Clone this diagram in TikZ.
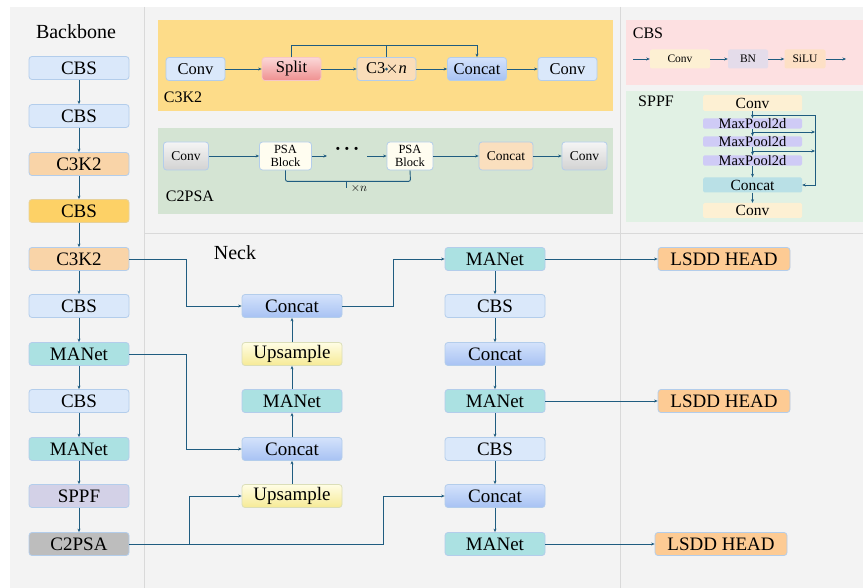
\documentclass[tikz,border=0pt]{standalone}
\usepackage{fontspec}
\setmainfont{Liberation Serif}
\usetikzlibrary{arrows.meta}
\definecolor{bgc}{HTML}{F3F3F3}
\definecolor{divc}{HTML}{D9D9D9}
\definecolor{linec}{HTML}{1F5C80}
\definecolor{bordc}{HTML}{B3CDEB}
\definecolor{cbsc}{HTML}{DAE8FA}
\definecolor{ckc}{HTML}{F9D4A8}
\definecolor{goldc}{HTML}{FDD166}
\definecolor{manc}{HTML}{ABE1E2}
\definecolor{sppfc}{HTML}{D3D1E7}
\definecolor{c2c}{HTML}{BDBDBD}
\definecolor{lsddc}{HTML}{FDCB94}
\definecolor{panY}{HTML}{FDDC89}
\definecolor{panG}{HTML}{D4E4D3}
\definecolor{panP}{HTML}{FDE0E1}
\definecolor{panS}{HTML}{E1F1E4}
\definecolor{creamc}{HTML}{FDF0D3}
\definecolor{lavc}{HTML}{CFCBF6}
\definecolor{bnc}{HTML}{E4DCEA}
\definecolor{siluc}{HTML}{FDE0C5}
\definecolor{tealc}{HTML}{B9E0E6}
\definecolor{psac}{HTML}{FFFDF0}
\definecolor{catT}{HTML}{D4E2FB}
\definecolor{catB}{HTML}{A7C2F3}
\definecolor{upT}{HTML}{FFFDE4}
\definecolor{upB}{HTML}{F6EA96}
\definecolor{spT}{HTML}{FBD8D8}
\definecolor{spB}{HTML}{EF9090}
\tikzset{
  box/.style={draw=bordc, line width=0.8pt, rounded corners=3pt, inner sep=0pt, minimum width=100pt, minimum height=23pt, font=\fontsize{19}{21}\selectfont},
  cbsbox/.style={box, fill=cbsc},
  ckbox/.style={box, fill=ckc},
  goldbox/.style={box, fill=goldc, draw=goldc!85!black!60},
  manbox/.style={box, fill=manc},
  sppfbox/.style={box, fill=sppfc},
  c2box/.style={box, fill=c2c},
  catbox/.style={box, top color=catT, bottom color=catB},
  upbox/.style={box, top color=upT, bottom color=upB, draw=upB!60!bordc},
  lsddbox/.style={box, fill=lsddc, minimum width=132pt},
  pbox/.style={box, minimum width=59pt, font=\fontsize{16.5}{18}\selectfont},
  qbox/.style={box, minimum width=45pt, minimum height=28pt, font=\fontsize{13.5}{15}\selectfont},
  graybox/.style={qbox, top color=white!92!gray, bottom color=gray!35},
  rbox/.style={draw=none, rounded corners=2pt, inner sep=0pt, minimum height=19pt, font=\fontsize{11.5}{13}\selectfont},
  sbox/.style={draw=none, rounded corners=1.5pt, inner sep=0pt, minimum width=99pt, font=\fontsize{15.5}{16}\selectfont},
  ttl/.style={inner sep=0pt, font=\fontsize{20}{22}\selectfont},
  plab/.style={inner sep=0pt, font=\fontsize{16}{18}\selectfont},
  arr/.style={draw=linec, line width=0.9pt, -{Stealth[length=3.5pt,width=3pt]}},
  ln/.style={draw=linec, line width=0.9pt}
}
\begin{document}
\begin{tikzpicture}[x=1pt,y=-1pt]
\useasboundingbox (0,0) rectangle (863,588);
\fill[white] (0,0) rectangle (863,588);
\fill[bgc] (10,7) rectangle (863,588);
\draw[divc, line width=0.8pt] (144,7) -- (144,588);
\draw[divc, line width=0.8pt] (620,7) -- (620,588);
\draw[divc, line width=0.8pt] (144,233) -- (863,233);
% panels
\fill[panY] (158,20) rectangle (613,111);
\fill[panG] (158,128) rectangle (613,214);
\fill[panP] (626,20) rectangle (863,85);
\fill[panS] (626,91) rectangle (863,222);
% titles
\node[ttl] (tb) at (76,32) {Backbone};
\node[ttl] (tn) at (235,253) {Neck};
\node[plab] (lk) at (183,97) {C3K2};
\node[plab] (lc) at (190,196) {C2PSA};
\node[plab] (lcbs) at (648,33) {CBS};
\node[plab] (lsppf) at (656,101) {SPPF};
% backbone
\node[cbsbox] (b1) at (79,68) {CBS};
\node[cbsbox] (b2) at (79,116) {CBS};
\node[ckbox] (b3) at (79,164) {C3K2};
\node[goldbox] (b4) at (79,211) {CBS};
\node[ckbox] (b5) at (79,259) {C3K2};
\node[cbsbox] (b6) at (79,306) {CBS};
\node[manbox] (b7) at (79,354) {MANet};
\node[cbsbox] (b8) at (79,401) {CBS};
\node[manbox] (b9) at (79,449) {MANet};
\node[sppfbox] (b10) at (79,496) {SPPF};
\node[c2box] (b11) at (79,544) {C2PSA};
\foreach \a/\b in {b1/b2,b2/b3,b3/b4,b4/b5,b5/b6,b6/b7,b7/b8,b8/b9,b9/b10,b10/b11}
  \draw[arr] (\a) -- (\b);
% neck left
\node[catbox] (n1) at (292,306) {Concat};
\node[upbox] (n2) at (292,354) {Upsample};
\node[manbox] (n3) at (292,401) {MANet};
\node[catbox] (n4) at (292,449) {Concat};
\node[upbox] (n5) at (292,496) {Upsample};
\draw[arr] (n3) -- (n2);
\draw[arr] (n2) -- (n1);
\draw[arr] (n4) -- (n3);
\draw[arr] (n5) -- (n4);
% neck right
\node[manbox] (r1) at (495,259) {MANet};
\node[cbsbox] (r2) at (495,306) {CBS};
\node[catbox] (r3) at (495,354) {Concat};
\node[manbox] (r4) at (495,401) {MANet};
\node[cbsbox] (r5) at (495,449) {CBS};
\node[catbox] (r6) at (495,496) {Concat};
\node[manbox] (r7) at (495,544) {MANet};
\foreach \a/\b in {r1/r2,r2/r3,r3/r4,r4/r5,r5/r6,r6/r7}
  \draw[arr] (\a) -- (\b);
% heads
\node[lsddbox] (h1) at (724,259) {LSDD HEAD};
\node[lsddbox] (h2) at (724,401) {LSDD HEAD};
\node[lsddbox] (h3) at (721,544) {LSDD HEAD};
\draw[arr] (r1) -- (h1);
\draw[arr] (r4) -- (h2);
\draw[arr] (r7) -- (h3);
% cross connections
\draw[arr] (b5.east) -- (186,259) |- (n1.west);
\draw[arr] (b7.east) -- (186,354) |- (n4.west);
\draw[arr] (b11.east) -- (189,544) |- (n5.west);
\draw[arr] (b11.east) -- (383,544) |- (r6.west);
\draw[arr] (n1.east) -- (393,306) |- (r1.west);
% C3K2 panel
\node[pbox, fill=cbsc] (k1) at (195.5,69) {Conv};
\node[pbox, top color=spT, bottom color=spB, draw=spB!50!white] (k2) at (291.5,69) {Split};
\node[pbox, fill=ckc!80!white] (k3) at (386.5,69) {C3$\times$\textit{n}};
\node[pbox, top color=catT, bottom color=catB] (k4) at (477,69) {Concat};
\node[pbox, fill=cbsc] (k5) at (567.5,69) {Conv};
\draw[arr] (k1) -- (k2);
\draw[arr] (k2) -- (k3);
\draw[arr] (k3) -- (k4);
\draw[arr] (k4) -- (k5);
\draw[arr] (k2.north) -- ++(0,-12) -| (k4.north);
\draw[ln] (k3.north) -- ++(0,-12);
\fill[linec] ([yshift=-12pt]k3.north) circle (1.5pt);
% C2PSA panel
\node[graybox] (p1) at (186,156) {Conv};
\node[qbox, fill=psac, minimum width=52pt, font=\fontsize{12.5}{13}\selectfont, align=center] (p2) at (285.5,156) {PSA\\Block};
\node[inner sep=0pt, font=\fontsize{26}{26}\selectfont] (pd) at (347,152) {\textperiodcentered\kern0.5pt\textperiodcentered\kern0.5pt\textperiodcentered};
\node[qbox, fill=psac, minimum width=46pt, font=\fontsize{12.5}{13}\selectfont, align=center] (p3) at (410,156) {PSA\\Block};
\node[qbox, fill=ckc!75!white, minimum width=54pt] (p4) at (506,156) {Concat};
\node[graybox] (p5) at (584.5,156) {Conv};
\draw[arr] (p1) -- (p2);
\draw[arr] (p2.east) -- (327,156);
\draw[arr] (367,156) -- (p3.west);
\draw[arr] (p3) -- (p4);
\draw[arr] (p4) -- (p5);
\draw[ln, rounded corners=2pt] (p2.south) -- ++(0,11) -- ++(125,0) -- (p3.south);
\draw[ln] (346,181) -- (346,188);
\node[inner sep=0pt, font=\fontsize{12}{13}\selectfont] (xn) at (359,189) {$\times n$};
% CBS panel
\coordinate (cin) at (633,59);
\coordinate (cout) at (846,59);
\node[rbox, fill=creamc, minimum width=60pt] (c1) at (680,59) {Conv};
\node[rbox, fill=bnc, minimum width=40pt] (c2) at (748,59) {BN};
\node[rbox, fill=siluc, minimum width=41pt] (c3) at (805,59) {SiLU};
\draw[arr] (cin) -- (c1);
\draw[arr] (c1) -- (c2);
\draw[arr] (c2) -- (c3);
\draw[arr] (c3) -- (cout);
% SPPF panel
\node[sbox, fill=creamc, minimum height=16pt] (s0) at (752.5,103) {Conv};
\node[sbox, fill=lavc, minimum height=10pt, font=\fontsize{14.5}{14}\selectfont] (s1) at (752.5,123.5) {MaxPool2d};
\node[sbox, fill=lavc, minimum height=10pt, font=\fontsize{14.5}{14}\selectfont] (s2) at (752.5,141.5) {MaxPool2d};
\node[sbox, fill=lavc, minimum height=10pt, font=\fontsize{14.5}{14}\selectfont] (s3) at (752.5,160.5) {MaxPool2d};
\node[sbox, fill=tealc, minimum height=15pt] (s4) at (752.5,185) {Concat};
\node[sbox, fill=creamc, minimum height=15pt] (s5) at (752.5,210.5) {Conv};
\draw[arr] (s0) -- (s1);
\draw[arr] (s1) -- (s2);
\draw[arr] (s2) -- (s3);
\draw[arr] (s3) -- (s4);
\draw[arr] (s4) -- (s5);
\draw[arr] (753,115) -- (815,115) |- (s4.east);
\draw[arr] (753,132) -- (815,132);
\draw[arr] (753,151) -- (815,151);
\end{tikzpicture}
\end{document}
